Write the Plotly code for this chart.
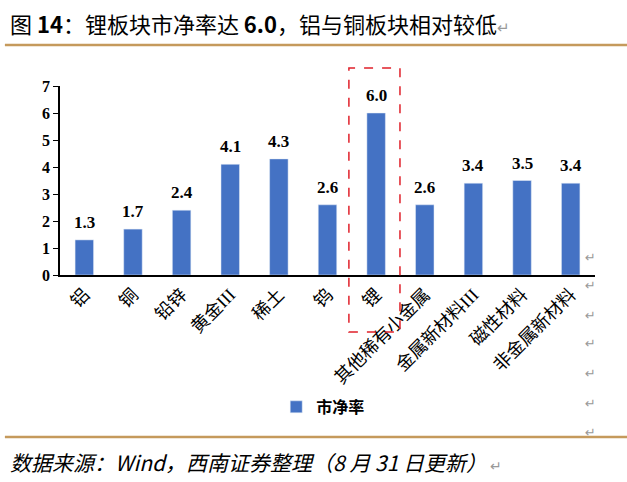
import plotly.graph_objects as go

# 板块市净率
categories = ["铝", "铜", "铅锌", "黄金III", "稀土", "钨", "锂",
              "其他稀有小金属", "金属新材料III", "磁性材料", "非金属新材料"]
pb_values = [1.3, 1.7, 2.4, 4.1, 4.3, 2.6, 6.0, 2.6, 3.4, 3.5, 3.4]
y_ticks = [0, 1, 2, 3, 4, 5, 6, 7]

title_text = "图 <b>14</b>：锂板块市净率达 <b>6.0</b>，铝与铜板块相对较低"
source_text = "数据来源：Wind，西南证券整理（8 月 31 日更新）"
series_name = "市净率"

BAR_BLUE = "#4472C4"
GOLD = "#C59A5C"

fig = go.Figure()

fig.add_trace(go.Bar(
    x=categories,
    y=pb_values,
    name=series_name,
    marker=dict(color=BAR_BLUE),
    width=0.38,
    showlegend=True,
))

# value labels above the bars
for cat, val in zip(categories, pb_values):
    fig.add_annotation(
        x=cat, y=val, text=f"<b>{val:.1f}</b>",
        showarrow=False, yanchor="bottom", yshift=6,
        font=dict(family="Liberation Serif", size=17, color="black"),
    )

fig.update_layout(
    width=627,
    height=482,
    margin=dict(l=60, r=32, t=86, b=207),
    paper_bgcolor="white",
    plot_bgcolor="white",
    legend=dict(
        orientation="h",
        x=0.492, y=-0.698,
        xanchor="center", yanchor="middle",
        font=dict(family="Noto Sans CJK SC", size=16, color="black", weight="bold"),
        itemwidth=30,
    ),
    xaxis=dict(
        tickangle=-45,
        tickfont=dict(family="Liberation Serif, Noto Sans CJK SC", size=18, color="black"),
        showline=True,
        linecolor="black",
        linewidth=2,
        ticks="",
        showgrid=False,
    ),
    yaxis=dict(
        range=[0, 7],
        tickvals=y_ticks,
        tickfont=dict(family="Liberation Serif", size=16, color="black", weight="bold"),
        showline=True,
        linecolor="black",
        linewidth=1.5,
        ticks="outside",
        ticklen=5,
        tickcolor="black",
        showgrid=False,
        zeroline=False,
    ),
)

# title and separator lines
fig.add_annotation(
    xref="paper", yref="paper", x=-0.097, y=1.333,
    xanchor="left", yanchor="middle", showarrow=False,
    text=title_text + "<span style='color:#999999;font-size:15px'>↵</span>",
    font=dict(family="Noto Sans CJK SC", size=22, color="black"),
)
fig.add_shape(type="line", xref="paper", yref="paper",
              x0=-0.103, x1=1.06, y0=1.217, y1=1.217,
              line=dict(color=GOLD, width=2.5))
fig.add_shape(type="line", xref="paper", yref="paper",
              x0=-0.103, x1=1.06, y0=-0.857, y1=-0.857,
              line=dict(color=GOLD, width=2.5))
fig.add_annotation(
    xref="paper", yref="paper", x=-0.097, y=-0.99,
    xanchor="left", yanchor="middle", showarrow=False,
    text="<i>" + source_text + "</i><span style='color:#999999;font-size:14px'> ↵</span>",
    font=dict(family="Noto Sans CJK SC", size=21, color="black"),
)

# red dashed highlight around 锂
fig.add_shape(type="rect", xref="x", yref="paper",
              x0=5.44, x1=6.49, y0=-0.302, y1=1.095,
              line=dict(color="#E0202A", width=1.5, dash="dash"),
              layer="above")

# paragraph marks on the right
mark_rows = [257, 285, 315, 343, 373, 403, 432]
for row in mark_rows:
    fig.add_annotation(
        xref="paper", yref="paper", x=(590 - 60) / 535, y=(275 - row) / 189,
        xanchor="center", yanchor="middle", showarrow=False,
        text="↵", font=dict(family="DejaVu Sans", size=13, color="#999999"),
    )

fig.write_html("out.html", config={"displayModeBar": False},
               post_script="document.body.style.margin='0';")
